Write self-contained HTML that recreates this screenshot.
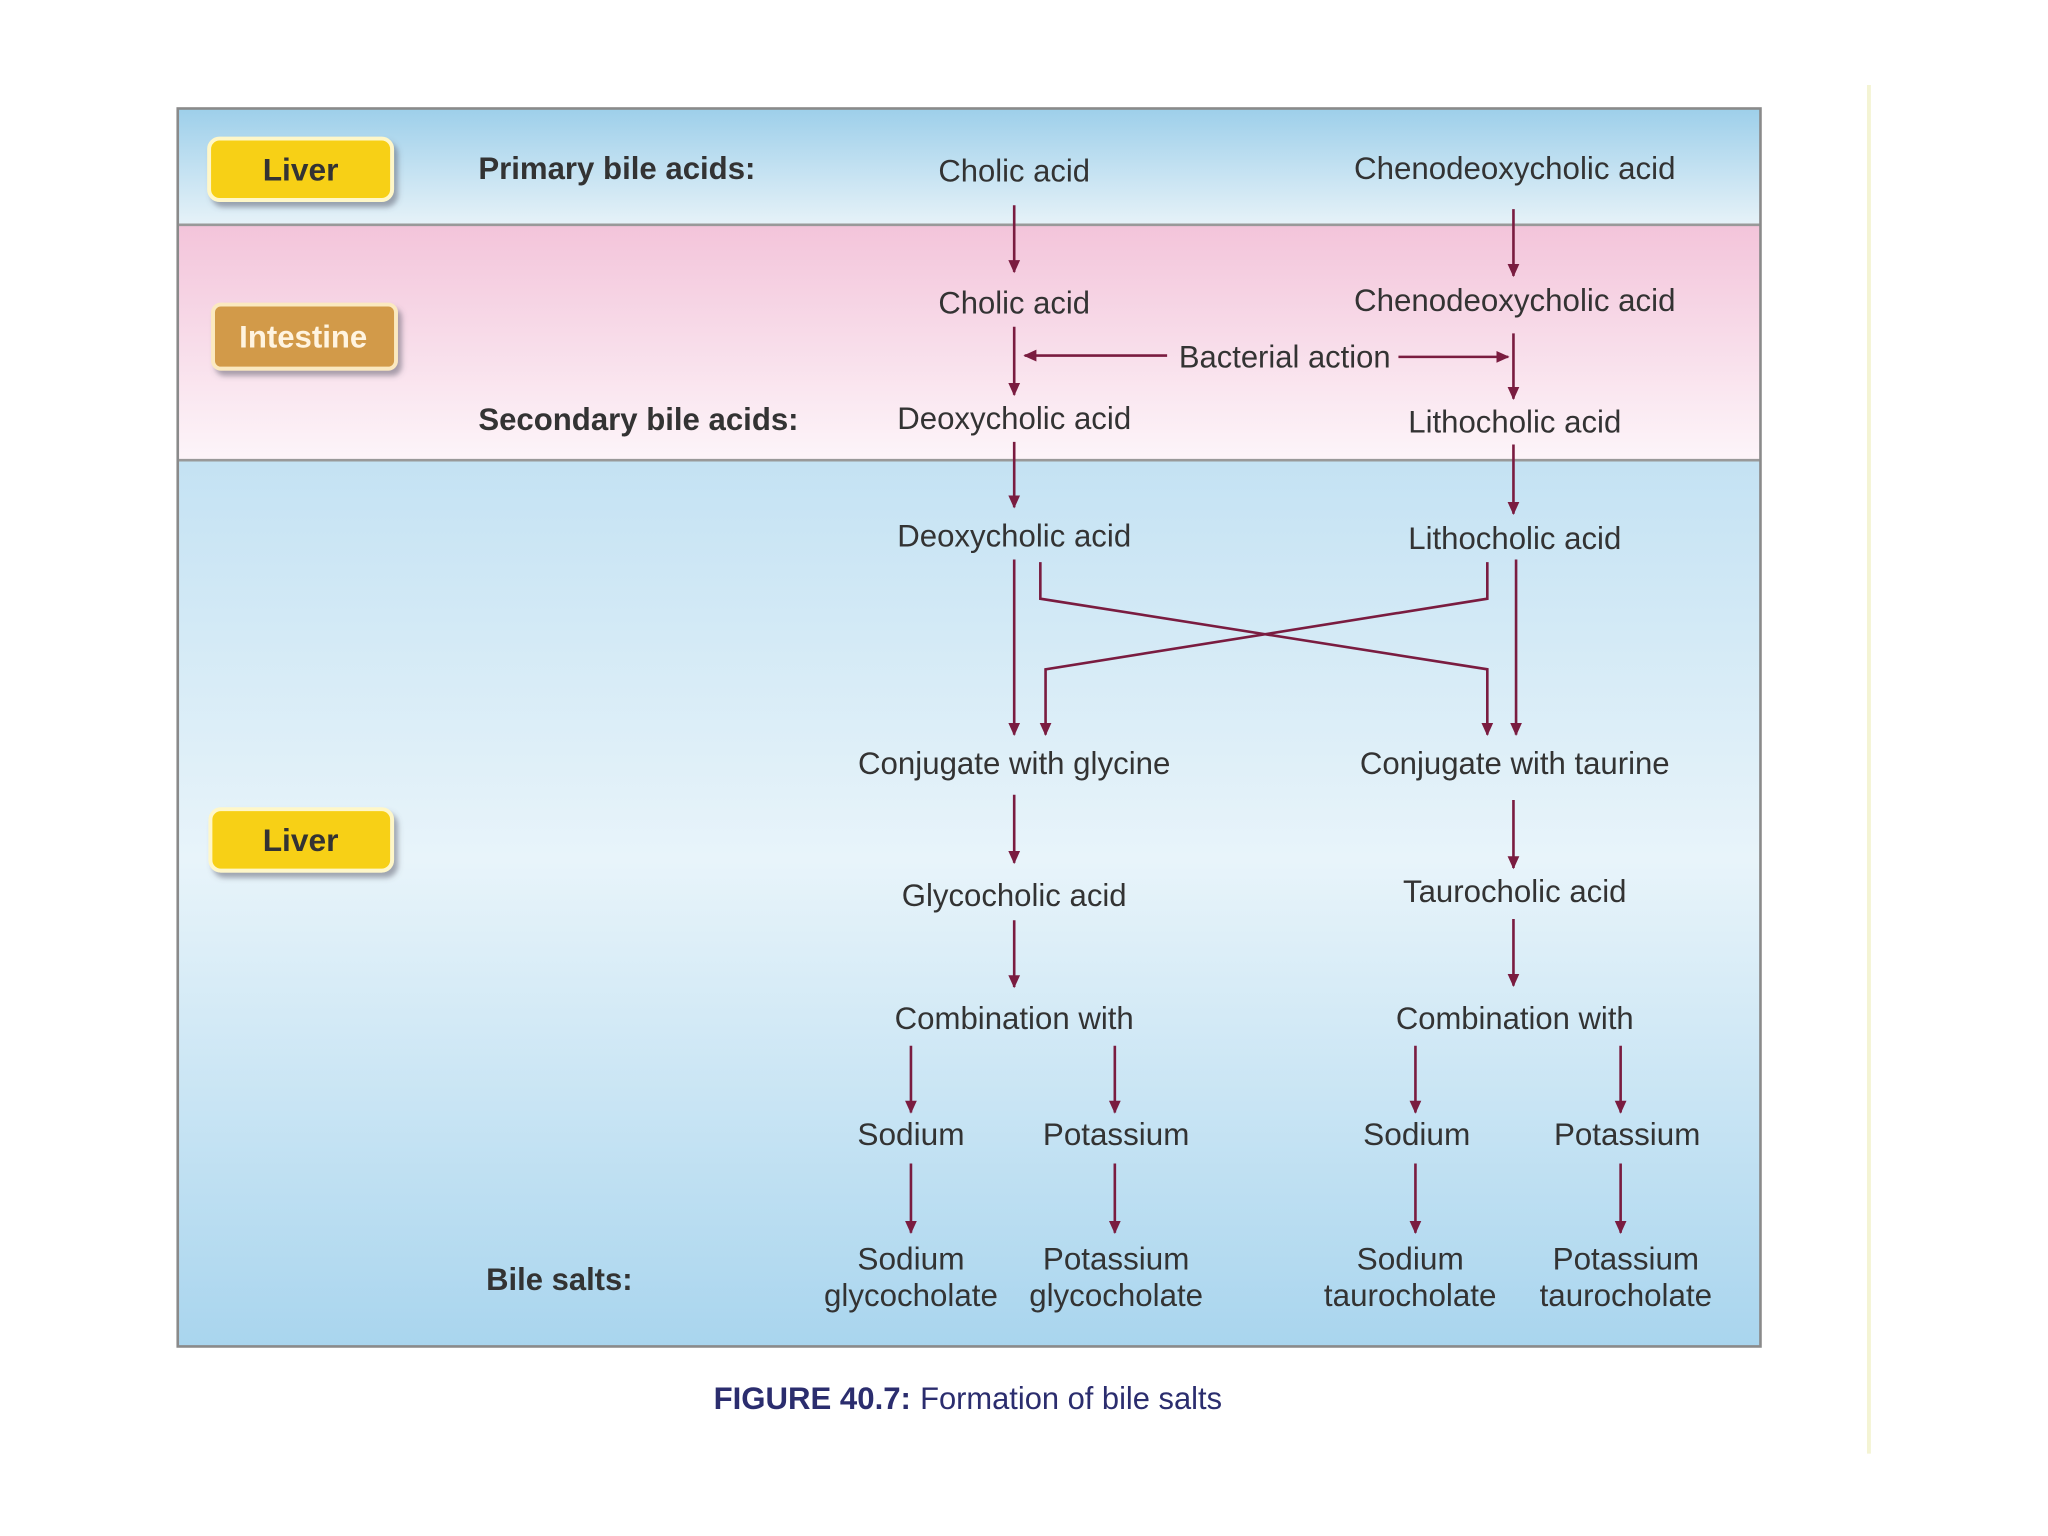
<!DOCTYPE html>
<html><head><meta charset="utf-8"><style>
html,body{margin:0;padding:0;background:#fff;}
svg{display:block;}
text{font-family:"Liberation Sans",sans-serif;fill:#333;font-size:24px;}
.b{font-weight:bold;}
.c{text-anchor:middle;}
</style></head><body>
<svg width="2048" height="1536" viewBox="0 0 1567 1175" preserveAspectRatio="none" xmlns="http://www.w3.org/2000/svg">
<defs>
<linearGradient id="g1" x1="0" y1="0" x2="0" y2="1"><stop offset="0" stop-color="#9dcfea"/><stop offset="1" stop-color="#e6f2f8"/></linearGradient>
<linearGradient id="g2" x1="0" y1="0" x2="0" y2="1"><stop offset="0" stop-color="#f3c4da"/><stop offset="1" stop-color="#fdf5f9"/></linearGradient>
<linearGradient id="g3" x1="0" y1="0" x2="0" y2="1"><stop offset="0" stop-color="#c4e2f3"/><stop offset="0.45" stop-color="#e8f4fa"/><stop offset="1" stop-color="#a9d5ee"/></linearGradient>
<marker id="ah" markerWidth="12" markerHeight="12" refX="9" refY="5" orient="auto" markerUnits="userSpaceOnUse"><path d="M0,0.5 L10,5 L0,9.5 Z" fill="#7a1c40"/></marker>
<filter id="sh" x="-20%" y="-20%" width="150%" height="160%"><feDropShadow dx="3" dy="4" stdDeviation="2" flood-color="#556" flood-opacity="0.5"/></filter>
</defs>
<line x1="1430" y1="65" x2="1430" y2="1112" stroke="#f4f4d4" stroke-width="3"/>
<rect x="136" y="83" width="1211" height="89" fill="url(#g1)"/>
<rect x="136" y="172" width="1211" height="180" fill="url(#g2)"/>
<rect x="136" y="352" width="1211" height="678" fill="url(#g3)"/>
<line x1="136" y1="172" x2="1347" y2="172" stroke="#999" stroke-width="2"/>
<line x1="136" y1="352" x2="1347" y2="352" stroke="#999" stroke-width="2"/>
<rect x="136" y="83" width="1211" height="947" fill="none" stroke="#8a8a8a" stroke-width="2"/>

<rect x="160" y="106" width="140" height="47" rx="8" fill="#f7d014" stroke="#fff7c8" stroke-width="3" filter="url(#sh)"/>
<text x="230" y="138" class="c b" lengthAdjust="spacingAndGlyphs" textLength="58">Liver</text>
<rect x="163" y="233" width="140" height="49" rx="6" fill="#d29a48" stroke="#fbe9c0" stroke-width="3" filter="url(#sh)"/>
<text x="232" y="266" class="c b" style="fill:#fff4e0" lengthAdjust="spacingAndGlyphs" textLength="98">Intestine</text>
<rect x="161" y="619" width="139" height="47" rx="8" fill="#f7d014" stroke="#fff7c8" stroke-width="3" filter="url(#sh)"/>
<text x="230" y="651" class="c b" lengthAdjust="spacingAndGlyphs" textLength="58">Liver</text>

<text x="366" y="137" class="b" lengthAdjust="spacingAndGlyphs" textLength="212">Primary bile acids:</text>
<text x="366" y="329" class="b" lengthAdjust="spacingAndGlyphs" textLength="245">Secondary bile acids:</text>
<text x="372" y="987" class="b" lengthAdjust="spacingAndGlyphs" textLength="112">Bile salts:</text>

<g>
<text x="776" y="139" class="c" lengthAdjust="spacingAndGlyphs" textLength="116">Cholic acid</text>
<text x="1159" y="137" class="c" lengthAdjust="spacingAndGlyphs" textLength="246">Chenodeoxycholic acid</text>
<text x="776" y="240" class="c" lengthAdjust="spacingAndGlyphs" textLength="116">Cholic acid</text>
<text x="1159" y="238" class="c" lengthAdjust="spacingAndGlyphs" textLength="246">Chenodeoxycholic acid</text>
<text x="983" y="281" class="c" lengthAdjust="spacingAndGlyphs" textLength="162">Bacterial action</text>
<text x="776" y="328" class="c" lengthAdjust="spacingAndGlyphs" textLength="179">Deoxycholic acid</text>
<text x="1159" y="331" class="c" lengthAdjust="spacingAndGlyphs" textLength="163">Lithocholic acid</text>
<text x="776" y="418" class="c" lengthAdjust="spacingAndGlyphs" textLength="179">Deoxycholic acid</text>
<text x="1159" y="420" class="c" lengthAdjust="spacingAndGlyphs" textLength="163">Lithocholic acid</text>
<text x="776" y="592" class="c" lengthAdjust="spacingAndGlyphs" textLength="239">Conjugate with glycine</text>
<text x="1159" y="592" class="c" lengthAdjust="spacingAndGlyphs" textLength="237">Conjugate with taurine</text>
<text x="776" y="693" class="c" lengthAdjust="spacingAndGlyphs" textLength="172">Glycocholic acid</text>
<text x="1159" y="690" class="c" lengthAdjust="spacingAndGlyphs" textLength="171">Taurocholic acid</text>
<text x="776" y="787" class="c" lengthAdjust="spacingAndGlyphs" textLength="183">Combination with</text>
<text x="1159" y="787" class="c" lengthAdjust="spacingAndGlyphs" textLength="182">Combination with</text>
<text x="697" y="876" class="c" lengthAdjust="spacingAndGlyphs" textLength="82">Sodium</text>
<text x="854" y="876" class="c" lengthAdjust="spacingAndGlyphs" textLength="112">Potassium</text>
<text x="1084" y="876" class="c" lengthAdjust="spacingAndGlyphs" textLength="82">Sodium</text>
<text x="1245" y="876" class="c" lengthAdjust="spacingAndGlyphs" textLength="112">Potassium</text>
<text x="697" y="971" class="c" lengthAdjust="spacingAndGlyphs" textLength="82">Sodium</text>
<text x="697" y="999" class="c" lengthAdjust="spacingAndGlyphs" textLength="133">glycocholate</text>
<text x="854" y="971" class="c" lengthAdjust="spacingAndGlyphs" textLength="112">Potassium</text>
<text x="854" y="999" class="c" lengthAdjust="spacingAndGlyphs" textLength="133">glycocholate</text>
<text x="1079" y="971" class="c" lengthAdjust="spacingAndGlyphs" textLength="82">Sodium</text>
<text x="1079" y="999" class="c" lengthAdjust="spacingAndGlyphs" textLength="132">taurocholate</text>
<text x="1244" y="971" class="c" lengthAdjust="spacingAndGlyphs" textLength="112">Potassium</text>
<text x="1244" y="999" class="c" lengthAdjust="spacingAndGlyphs" textLength="132">taurocholate</text>
</g>

<text x="546" y="1078" class="b" style="fill:#2b2d6e" lengthAdjust="spacingAndGlyphs" textLength="151">FIGURE 40.7:</text>
<text x="704" y="1078" style="fill:#2b2d6e" lengthAdjust="spacingAndGlyphs" textLength="231">Formation of bile salts</text>

<g stroke="#7a1c40" stroke-width="2" fill="none" marker-end="url(#ah)">
<line x1="776" y1="157" x2="776" y2="208"/>
<line x1="776" y1="250" x2="776" y2="302"/>
<line x1="776" y1="338" x2="776" y2="388"/>
<line x1="776" y1="428" x2="776" y2="562"/>
<line x1="776" y1="608" x2="776" y2="660"/>
<line x1="776" y1="704" x2="776" y2="755"/>
<line x1="1158" y1="160" x2="1158" y2="211"/>
<line x1="1158" y1="255" x2="1158" y2="305"/>
<line x1="1158" y1="340" x2="1158" y2="393"/>
<line x1="1160" y1="428" x2="1160" y2="562"/>
<line x1="1158" y1="612" x2="1158" y2="664"/>
<line x1="1158" y1="703" x2="1158" y2="754"/>
<polyline points="796,430 796,458 1138,512 1138,562"/>
<polyline points="1138,430 1138,458 800,512 800,562"/>
<line x1="893" y1="272" x2="784" y2="272"/>
<line x1="1070" y1="273" x2="1154" y2="273"/>
<line x1="697" y1="800" x2="697" y2="851"/>
<line x1="697" y1="890" x2="697" y2="943"/>
<line x1="853" y1="800" x2="853" y2="851"/>
<line x1="853" y1="890" x2="853" y2="943"/>
<line x1="1083" y1="800" x2="1083" y2="851"/>
<line x1="1083" y1="890" x2="1083" y2="943"/>
<line x1="1240" y1="800" x2="1240" y2="851"/>
<line x1="1240" y1="890" x2="1240" y2="943"/>
</g>
</svg>
</body></html>
